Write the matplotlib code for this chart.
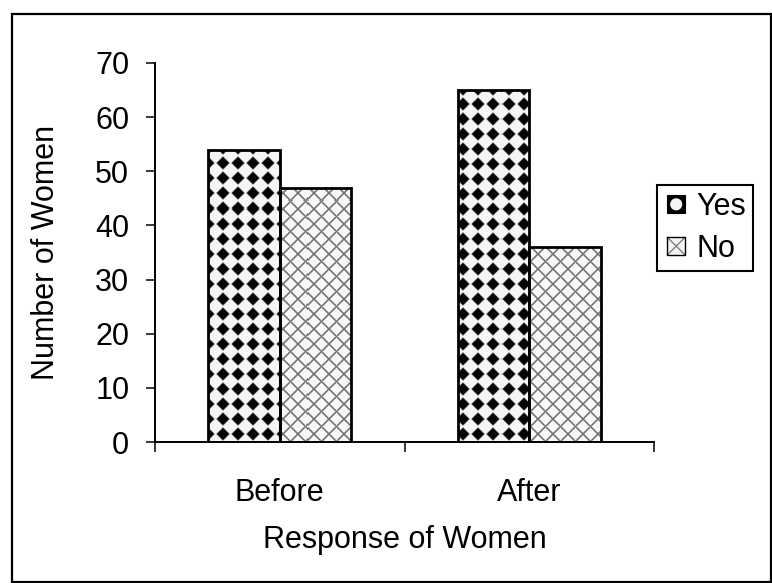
import numpy as np
import matplotlib
matplotlib.use("Agg")
import matplotlib.pyplot as plt
from matplotlib.patches import Rectangle, Circle
from matplotlib.lines import Line2D
from matplotlib.legend_handler import HandlerBase

plt.rcParams['font.family'] = ['Liberation Sans', 'DejaVu Sans']

categories = ["Before", "After"]
yes_vals = [54, 65]
no_vals = [47, 36]
series_names = ["Yes", "No"]

W, H, DPI = 772, 583, 100
FS = 22


def diamond_texture(h, w, period=15, r=5.6):
    # black diamonds on a square lattice
    yy, xx = np.mgrid[0:h, 0:w]
    dx = np.abs((xx % period) - period / 2)
    dy = np.abs((yy % period) - period / 2)
    d = dx + dy
    t = np.clip((d - r) / 1.8, 0, 1)
    return 0.02 + t * (0.96 - 0.02)


def cross_texture(h, w, period=15):
    # thin grey diagonal crosshatch
    yy, xx = np.mgrid[0:h, 0:w]
    a = (xx + yy) % period
    b = (xx - yy) % period
    da = np.minimum(a, period - a)
    db = np.minimum(b, period - b)
    dist = np.minimum(da, db) / np.sqrt(2)
    t = np.clip((dist - 0.4) / 0.9, 0, 1)
    return 0.45 + t * (0.97 - 0.45)


class YesHandler(HandlerBase):
    def create_artists(self, legend, orig, xd, yd, w, h, fontsize, trans):
        s = h
        x0 = -xd + w - s
        y0 = -yd
        sq = Rectangle((x0, y0), s, s, facecolor='black', edgecolor='black',
                       lw=0.8, transform=trans)
        dot = Circle((x0 + s / 2, y0 + s / 2 - 0.3), s * 0.34,
                     facecolor='#f4f4f4', edgecolor='none', transform=trans)
        return [sq, dot]


class NoHandler(HandlerBase):
    def create_artists(self, legend, orig, xd, yd, w, h, fontsize, trans):
        s = h
        x0 = -xd + w - s
        y0 = -yd
        fill = Rectangle((x0, y0), s, s, facecolor='#f4f4f4', edgecolor='none',
                         transform=trans)
        l1 = Line2D([x0, x0 + s], [y0, y0 + s], color='#777777', lw=0.9,
                    transform=trans)
        l2 = Line2D([x0, x0 + s], [y0 + s, y0], color='#777777', lw=0.9,
                    transform=trans)
        edge = Rectangle((x0, y0), s, s, facecolor='none', edgecolor='black',
                         lw=1.0, transform=trans)
        return [fill, l1, l2, edge]


fig = plt.figure(figsize=(W / DPI, H / DPI), dpi=DPI)
ax_l, ax_r, ax_t, ax_b = 155, 654, 63, 442
ax = fig.add_axes([ax_l / W, 1 - ax_b / H, (ax_r - ax_l) / W, (ax_b - ax_t) / H])

x = np.arange(len(categories))
bw = 0.286
ax.set_xlim(-0.5, len(categories) - 0.5)
ax.set_ylim(0, 70)

yes_bars = ax.bar(x - bw / 2, yes_vals, bw, facecolor='none', edgecolor='black',
                  lw=2, zorder=3)
no_bars = ax.bar(x + bw / 2, no_vals, bw, facecolor='none', edgecolor='black',
                 lw=2, zorder=3)

ph, pw = ax_b - ax_t, ax_r - ax_l
ext = (-0.5, len(categories) - 0.5, 0, 70)
tex_yes = diamond_texture(ph, pw)
tex_no = cross_texture(ph, pw)
for bars, tex in [(yes_bars, tex_yes), (no_bars, tex_no)]:
    for b in bars:
        im = ax.imshow(tex, cmap='gray', vmin=0, vmax=1, extent=ext, origin='lower',
                       aspect='auto', interpolation='nearest', zorder=2)
        im.set_clip_path(b)

# axes styling
for side in ['top', 'right']:
    ax.spines[side].set_visible(False)
for side in ['left', 'bottom']:
    ax.spines[side].set_linewidth(1.4)

ax.set_yticks(range(0, 71, 10))
ax.tick_params(axis='y', direction='out', length=6.5, width=1.1, pad=12, labelsize=FS)
ax.set_xticks([-0.5, 0.5, 1.5])
ax.set_xticklabels([])
ax.tick_params(axis='x', which='major', direction='out', length=7, width=1.1)
ax.set_xticks(x, minor=True)
ax.set_xticklabels(categories, minor=True)
ax.tick_params(axis='x', which='minor', length=0, pad=26, labelsize=FS)

ax.set_ylabel("Number of Women", fontsize=FS)
ax.yaxis.set_label_coords((46 - ax_l) / pw, 0.5)
ax.yaxis.label.set_verticalalignment('center')
ax.set_xlabel("Response of Women", fontsize=FS)
ax.xaxis.set_label_coords(0.5, (ax_b - 540) / ph)
ax.xaxis.label.set_verticalalignment('center')

leg = fig.legend([yes_bars, no_bars], series_names, loc='upper left',
                 bbox_to_anchor=(657 / W, 1 - 185 / H), borderaxespad=0,
                 fontsize=FS, frameon=True, fancybox=False, framealpha=1,
                 edgecolor='black', borderpad=0.22, labelspacing=0.4,
                 handlelength=0.7, handleheight=0.52, handletextpad=0.38,
                 handler_map={yes_bars: YesHandler(), no_bars: NoHandler()})
leg.get_frame().set_linewidth(1.5)

# outer border
fig.patches.append(Rectangle((12 / W, 1 - 582 / H), (771 - 12) / W, (582 - 14) / H,
                             transform=fig.transFigure, facecolor='none',
                             edgecolor='black', lw=1.6))

fig.savefig("out.png", dpi=DPI)
